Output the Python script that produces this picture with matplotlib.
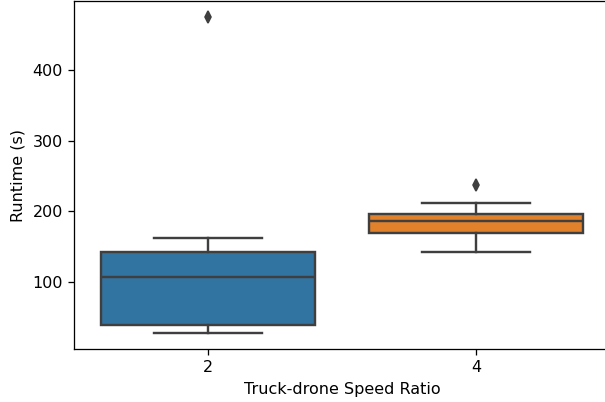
import numpy as np
import matplotlib
matplotlib.use('Agg')
import matplotlib.pyplot as plt

# runtimes (s) per truck-drone speed ratio
ratios = ['2', '4']
runtime_2 = [28, 35, 39, 80, 107, 130, 143, 163, 475]
runtime_4 = [142, 165, 170, 180, 187, 192, 196, 212, 237]
colors = ['#3274a1', '#e1812c']
gray = '#3f3f3f'

dpi = 115
fig = plt.figure(figsize=(605 / dpi, 402 / dpi), dpi=dpi)
ax = fig.add_axes([74 / 605, 1 - 349 / 402, 536 / 605, 348 / 402])

bp = ax.boxplot([runtime_2, runtime_4], positions=[0, 1], widths=0.8,
                patch_artist=True, whis=1.5,
                boxprops=dict(edgecolor=gray, linewidth=1.5),
                medianprops=dict(color=gray, linewidth=1.5),
                whiskerprops=dict(color=gray, linewidth=1.5),
                capprops=dict(color=gray, linewidth=1.5),
                flierprops=dict(marker='d', markerfacecolor=gray,
                                markeredgecolor=gray, markersize=5))
for patch, c in zip(bp['boxes'], colors):
    patch.set_facecolor(c)

ax.set_xlim(-0.5, 1.5)
ax.set_ylim(5.65, 497.35)
ax.set_xticks([0, 1])
ax.set_xticklabels(ratios)
ax.set_yticks([100, 200, 300, 400])
ax.tick_params(labelsize=10)
ax.set_xlabel('Truck-drone Speed Ratio', fontsize=10)
ax.set_ylabel('Runtime (s)', fontsize=10)

fig.savefig('out.png', dpi=dpi)
